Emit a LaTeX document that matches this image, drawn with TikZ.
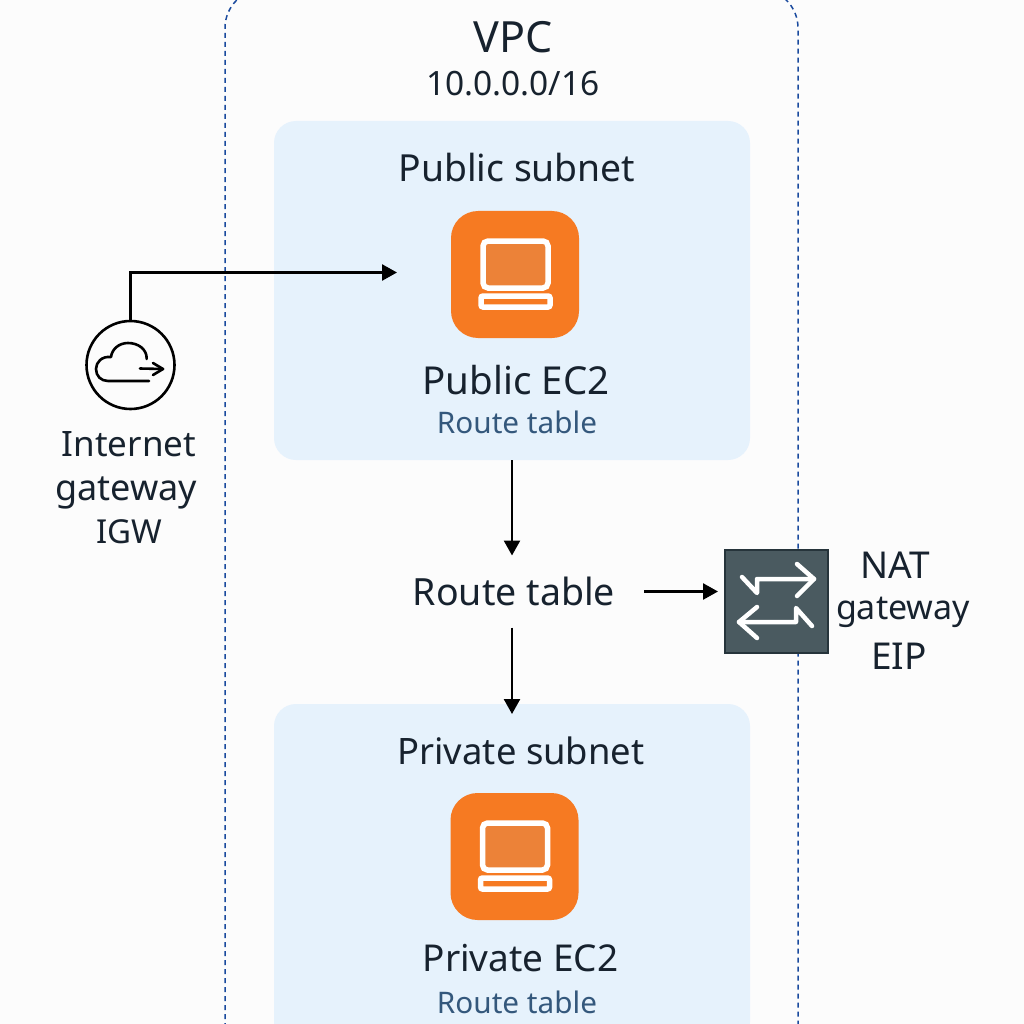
\documentclass[tikz,border=0pt]{standalone}
\usepackage{fontspec}
\setmainfont{Noto Sans}
\usetikzlibrary{arrows.meta,positioning}
\definecolor{subnetfill}{HTML}{E6F2FC}
\definecolor{vpcblue}{HTML}{1A4A9E}
\definecolor{ecorange}{HTML}{F67A22}
\definecolor{ecscreen}{HTML}{EC8238}
\definecolor{natfill}{HTML}{4A5A60}
\definecolor{natedge}{HTML}{26343B}
\definecolor{inktext}{HTML}{17222E}
\definecolor{rtblue}{HTML}{34587C}
\newcommand{\fs}[1]{\fontsize{#1}{#1}\selectfont}
\tikzset{
  x=1pt,y=-1pt,
  lbl/.style={inner sep=0pt,outer sep=0pt,text=inktext,anchor=center},
  subtext/.style={lbl,font=\fs{29.7},text=rtblue},
  subnetbox/.style={fill=subnetfill,rounded corners=22pt,minimum width=476pt,inner sep=0pt,outer sep=0pt},
  ecbox/.style={fill=ecorange,rounded corners=27pt,minimum width=128pt,minimum height=127pt,inner sep=0pt,outer sep=0pt},
  conn/.style={draw=black,line width=2.5pt,-{Triangle[length=15pt,width=16pt]}},
  iconw/.style={draw=white,line width=5.5pt},
  natw/.style={draw=white,line width=4.5pt,line cap=round,line join=round},
  igwl/.style={draw=black,line width=2.6pt,line cap=round,line join=round},
}
\begin{document}
\begin{tikzpicture}
\useasboundingbox (0,0) rectangle (1024,1024);
\clip (0,0) rectangle (1024,1024);
\fill[white!99!black] (0,0) rectangle (1024,1024);
% VPC
\draw[vpcblue,line width=1.5pt,dash pattern=on 5pt off 4pt,rounded corners=39pt] (225,1100) -- (225,-11) -- (798,-11) -- (798,1100);
% subnets
\node[subnetbox,minimum height=339pt] (pub) at (512,290.5) {};
\node[subnetbox,minimum height=340pt] (priv) at (512,874) {};
\node[ecbox] (ec1) at (515,274.5) {};
\node[ecbox] (ec2) at (514.5,856.5) {};
% computer icons
\foreach \c in {ec1,ec2}{
  \begin{scope}[shift={(\c.center)},shift={(-515,-274.5)}]
  \draw[iconw,fill=ecscreen,rounded corners=5pt] (483,241) rectangle (548,288);
  \draw[iconw,rounded corners=2pt] (481,296) rectangle (550,307);
  \end{scope}
}
% texts
\node[lbl,font=\fs{43}] (vpc) at (513,37) {VPC};
\node[lbl,font=\fs{33.5}] (cidr) at (513,84) {10.0.0.0/16};
\node[lbl,font=\fs{37.3}] (pubt) at (517,168) {Public subnet};
\node[lbl,font=\fs{38.5}] (pube) at (516,380) {Public EC2};
\node[subtext] (pubr) at (517,422) {Route table};
\node[lbl,font=\fs{36.4}] (privt) at (521,751) {Private subnet};
\node[lbl,font=\fs{37}] (prive) at (520.5,958) {Private EC2};
\node[subtext] (privr) at (517,1002) {Route table};
\node[lbl,font=\fs{37.5},minimum width=260pt,minimum height=72pt] (rt) at (514,591.5) {Route table};
\node[lbl,font=\fs{35}] (igw1) at (129,444) {Internet};
\node[lbl,font=\fs{36}] (igw2) at (126,493) {gateway};
\node[lbl,font=\fs{33}] (igw3) at (129,532) {IGW};
\node[lbl,font=\fs{37}] (nat1) at (895,565) {NAT};
\node[lbl,font=\fs{34}] (nat2) at (903,612) {gateway};
\node[lbl,font=\fs{37}] (nat3) at (899,656) {EIP};
% IGW
\node[draw=black,line width=2.6pt,circle,minimum size=88pt,inner sep=0pt,outer sep=1.3pt] (igw) at (130.5,365) {};
\draw[igwl] (146.7,359) .. controls (147,349) and (138,343) .. (128,343) .. controls (119,343) and (112,349) .. (111,357) .. controls (102,356) and (96,362) .. (96,369) .. controls (96,376) and (101,381) .. (108,381) -- (149,381);
\draw[igwl] (140,368.5) -- (163,369);
\draw[igwl] (153,363) -- (163,369) -- (153,375);
% NAT
\node[fill=natfill,draw=natedge,line width=2pt,minimum width=103pt,minimum height=103pt,inner sep=0pt,outer sep=1pt] (nat) at (776.5,601.5) {};
\draw[natw] (742,577) -- (757,593) -- (757,579) -- (814,579);
\draw[natw] (797,564) -- (814,579) -- (797,596);
\draw[natw] (812,626) -- (796,608) -- (796,622) -- (739,622);
\draw[natw] (757,607) -- (739,622) -- (757,638);
% connectors
\coordinate (pubin) at (397,272.5);
\draw[conn] (igw.north) |- (pubin);
\draw[conn] (pub.south) -- (pub.south |- rt.north);
\draw[conn,shorten >=-10pt] (pub.south |- rt.south) -- (priv.north);
\draw[conn,shorten >=6pt] (rt.east) -- (rt.east -| nat.west);
\end{tikzpicture}
\end{document}
